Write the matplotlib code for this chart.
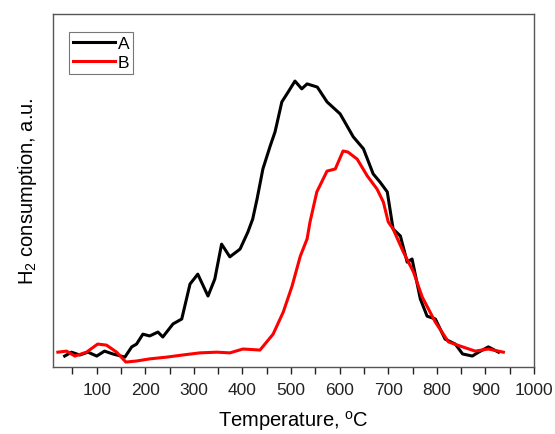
import matplotlib
matplotlib.use('Agg')
import matplotlib.pyplot as plt
from matplotlib.ticker import MultipleLocator

plt.rcParams['font.family'] = ['Liberation Sans', 'DejaVu Sans']

# Sample A (black)
temp_a = [34, 48, 65, 82, 100, 116, 133, 158, 172, 182, 195, 209, 226, 236,
          257, 275, 292, 308, 329, 343, 357, 374, 395, 411, 421, 430, 442,
          457, 467, 481, 494, 508, 522, 533, 554, 574, 601, 628, 649, 669,
          683, 698, 710, 725, 739, 749, 766, 780, 797, 817, 838, 853, 873,
          886, 906, 927]
h2_a = [0.031, 0.042, 0.034, 0.042, 0.031, 0.045, 0.037, 0.028, 0.057, 0.065,
        0.093, 0.088, 0.099, 0.085, 0.122, 0.136, 0.235, 0.263, 0.201, 0.249,
        0.348, 0.312, 0.334, 0.382, 0.419, 0.476, 0.561, 0.626, 0.666, 0.751,
        0.779, 0.810, 0.788, 0.802, 0.793, 0.751, 0.717, 0.652, 0.618, 0.547,
        0.524, 0.496, 0.391, 0.371, 0.297, 0.306, 0.193, 0.144, 0.136, 0.079,
        0.065, 0.037, 0.031, 0.042, 0.057, 0.042]

# Sample B (red)
temp_b = [20, 38, 55, 79, 102, 120, 141, 160, 182, 209, 244, 277, 312, 347,
          374, 401, 436, 463, 484, 502, 519, 533, 539, 553, 574, 591, 607,
          617, 636, 657, 677, 690, 700, 710, 731, 752, 770, 797, 824, 853,
          879, 906, 937]
h2_b = [0.042, 0.045, 0.031, 0.042, 0.065, 0.062, 0.042, 0.014, 0.017, 0.023,
        0.028, 0.034, 0.040, 0.042, 0.040, 0.051, 0.048, 0.093, 0.156, 0.229,
        0.314, 0.363, 0.411, 0.496, 0.555, 0.561, 0.612, 0.609, 0.589, 0.541,
        0.504, 0.467, 0.411, 0.391, 0.326, 0.269, 0.198, 0.127, 0.071, 0.057,
        0.045, 0.051, 0.042]

fig = plt.figure(figsize=(5.55, 4.35), dpi=100)
ax = fig.add_axes([53 / 555, 1 - 368 / 435, (534 - 53) / 555, (368 - 15) / 435])

ax.plot(temp_a, h2_a, color='black', linewidth=2.2, label='A')
ax.plot(temp_b, h2_b, color='#ff0000', linewidth=2.2, label='B')

ax.set_xlim(10, 1000)
ax.set_ylim(0, 1)
ax.xaxis.set_minor_locator(MultipleLocator(50))
ax.set_xticks(range(100, 1001, 100))
ax.tick_params(axis='x', which='both', direction='out', length=5, width=1,
               labelsize=12.5, colors='#222222', pad=6)
ax.set_yticks([])
for s in ax.spines.values():
    s.set_color('#555555')
    s.set_linewidth(1)

ax.set_xlabel('Temperature, $^{\\mathregular{o}}$C', fontsize=14.5, labelpad=8)
ax.set_ylabel('H$_\\mathregular{2}$ consumption, a.u.', fontsize=14.5, labelpad=10)

leg = ax.legend(loc='upper left', bbox_to_anchor=(0.033, 0.95), fontsize=12.5,
                handlelength=2.4, handletextpad=0.15, borderpad=0.25,
                labelspacing=0.2, fancybox=False, framealpha=1,
                edgecolor='#777777', borderaxespad=0)
leg.get_frame().set_linewidth(0.8)

fig.savefig('out.png', dpi=100)
